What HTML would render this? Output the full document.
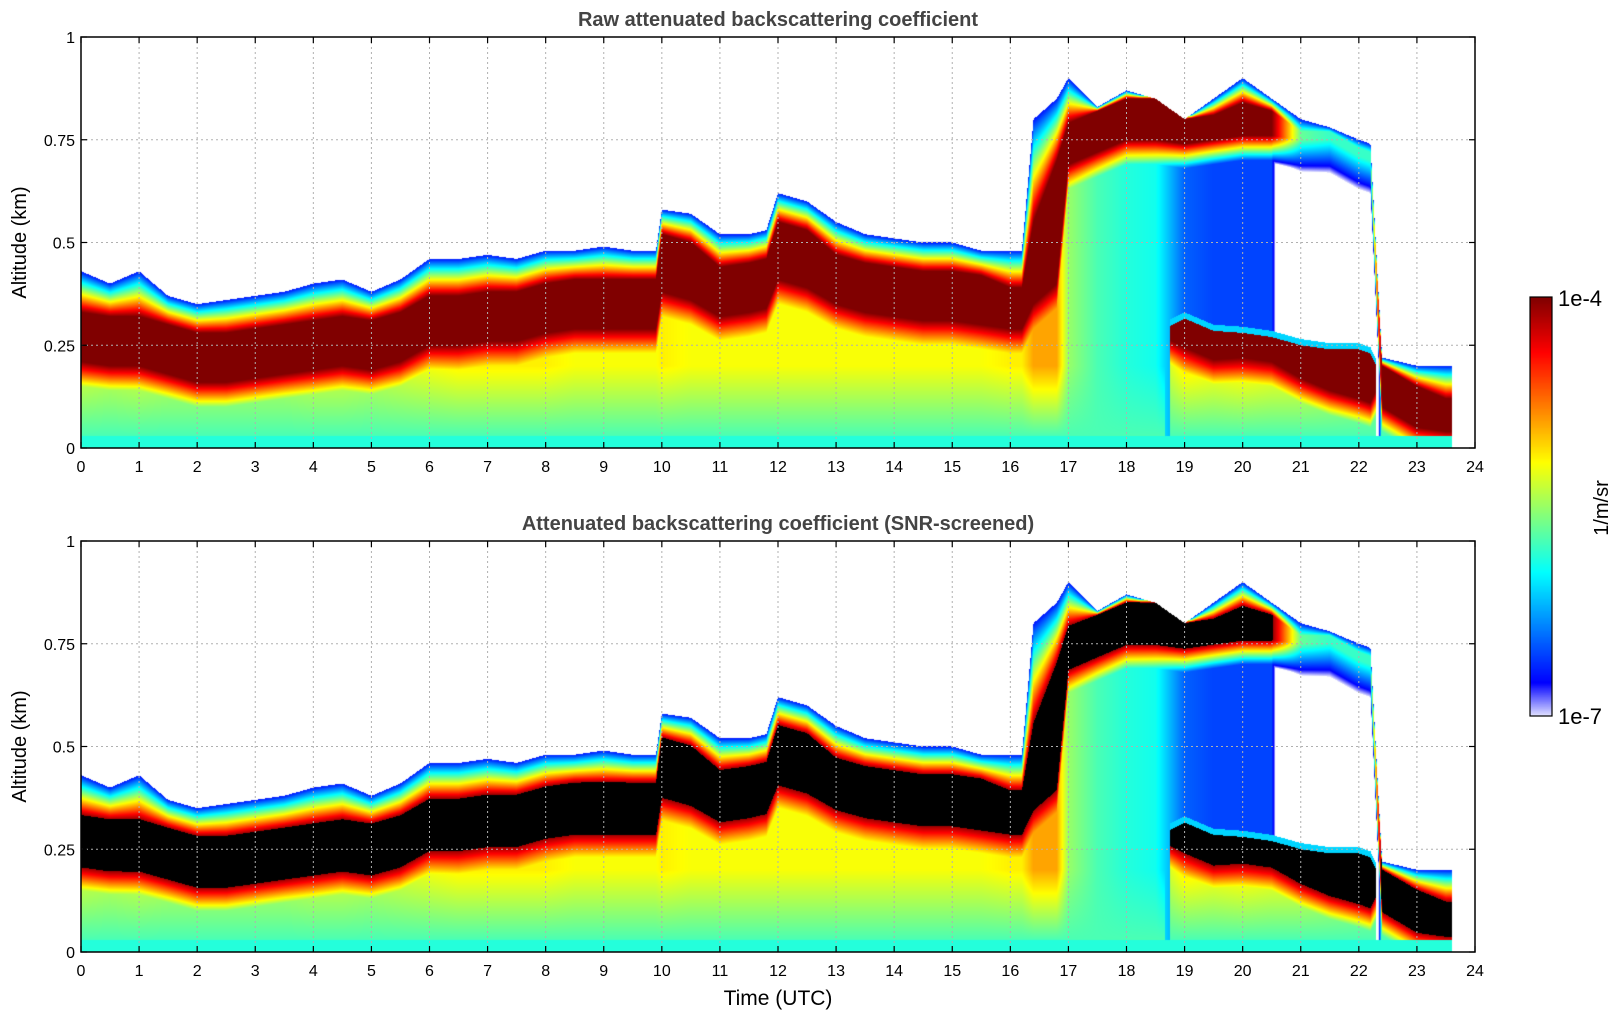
<!DOCTYPE html>
<html><head><meta charset="utf-8"><style>
body{margin:0;background:#fff;width:1621px;height:1020px;overflow:hidden;position:relative;font-family:"Liberation Sans","DejaVu Sans",sans-serif}
canvas,svg{position:absolute;left:0;top:0}
</style></head><body>
<canvas id="hm" width="1621" height="1020"></canvas>
<svg id="ax" width="1621" height="1020"></svg>
<script>
const times=[0,0.5,1,1.5,2,2.5,3,3.5,4,4.5,5,5.5,6,6.5,7,7.5,8,8.5,9,9.5,9.9,10,10.5,11,11.5,11.8,12,12.5,13,13.5,14,14.5,15,15.5,16,16.2,16.4,16.8,17,17.5,18,18.5,19,19.5,20,20.5,21,21.5,22,22.2,22.4,23,23.5,23.6];
const tops=[0.43,0.40,0.43,0.37,0.35,0.36,0.37,0.38,0.40,0.41,0.38,0.41,0.46,0.46,0.47,0.46,0.48,0.48,0.49,0.48,0.48,0.58,0.57,0.52,0.52,0.53,0.62,0.60,0.55,0.52,0.51,0.50,0.50,0.48,0.48,0.48,0.80,0.85,0.90,0.83,0.87,0.85,0.80,0.85,0.90,0.85,0.80,0.78,0.75,0.74,0.22,0.20,0.20,0.20];
const peaks=[0.27,0.26,0.26,0.24,0.22,0.22,0.23,0.24,0.25,0.26,0.25,0.27,0.31,0.31,0.32,0.32,0.34,0.35,0.35,0.35,0.35,0.45,0.43,0.38,0.39,0.40,0.48,0.46,0.41,0.39,0.38,0.37,0.37,0.36,0.34,0.34,0.45,0.55,0.74,0.77,0.80,0.80,0.77,0.78,0.80,0.79,0.76,0.76,0.72,0.71,0.15,0.10,0.08,0.08];
const widths=[0.06,0.06,0.06,0.06,0.06,0.06,0.06,0.06,0.06,0.06,0.06,0.06,0.06,0.06,0.06,0.06,0.06,0.06,0.06,0.06,0.06,0.07,0.07,0.06,0.06,0.06,0.07,0.07,0.06,0.06,0.06,0.06,0.06,0.06,0.05,0.05,0.10,0.15,0.05,0.05,0.05,0.05,0.03,0.03,0.04,0.03,0.01,0.01,0.01,0.01,0.05,0.05,0.04,0.04];
const peakV=[1,1,1,1,1,1,1,1,1,1,1,1,1,1,1,1,1,1,1,1,1,1,1,1,1,1,1,1,1,1,1,1,1,1,1,1,1,1,1,1,1,1,1,1,1,1,0.45,0.4,0.4,0.4,1,1,1,1];
const midV=[0.58,0.56,0.58,0.56,0.56,0.56,0.56,0.56,0.58,0.58,0.56,0.58,0.6,0.62,0.62,0.62,0.62,0.6,0.6,0.6,0.6,0.62,0.6,0.6,0.6,0.6,0.6,0.6,0.6,0.6,0.6,0.6,0.6,0.6,0.62,0.62,0.7,0.7,0.5,0.42,0.38,0.36,0.18,0.15,0.15,0.15,-1,-1,-1,-1,0.45,0.45,0.45,0.45];
const peak2=[null,null,null,null,null,null,null,null,null,null,null,null,null,null,null,null,null,null,null,null,null,null,null,null,null,null,null,null,null,null,null,null,null,null,null,null,null,null,null,null,null,null,0.28,0.25,0.25,0.24,0.21,0.19,0.18,0.17,null,null,null,null];
const peak2W=[0,0,0,0,0,0,0,0,0,0,0,0,0,0,0,0,0,0,0,0,0,0,0,0,0,0,0,0,0,0,0,0,0,0,0,0,0,0,0,0,0,0,0.035,0.035,0.03,0.03,0.04,0.05,0.06,0.06,0,0,0,0];
const lowV=[0.5,0.5,0.5,0.5,0.5,0.5,0.5,0.5,0.5,0.5,0.5,0.5,0.5,0.5,0.5,0.5,0.5,0.5,0.5,0.5,0.5,0.5,0.5,0.5,0.5,0.5,0.5,0.5,0.5,0.5,0.5,0.5,0.5,0.5,0.5,0.5,0.5,0.5,0.5,0.5,0.5,0.5,0.64,0.62,0.64,0.62,0.62,0.6,0.58,0.58,0.5,0.5,0.5,0.5];
const dataEnd=23.6;
const xTicks=[0,1,2,3,4,5,6,7,8,9,10,11,12,13,14,15,16,17,18,19,20,21,22,23,24];
const yTicks=[0,0.25,0.5,0.75,1];
const yTickLabels=["0","0.25","0.5","0.75","1"];

const X0=81,X1=1475;
const panels=[{y0:37,y1:448,title:"Raw attenuated backscattering coefficient",screen:false},
              {y0:541,y1:952,title:"Attenuated backscattering coefficient (SNR-screened)",screen:true}];
function xs(t){return X0+(t/24)*(X1-X0);}
function ys(p,z){return p.y1-z*(p.y1-p.y0);}
function interp(arr,t){let i=0;while(i<times.length-2&&times[i+1]<=t)i++;
  const f=Math.max(0,Math.min(1,(t-times[i])/(times[i+1]-times[i])));const a=arr[i],b=arr[i+1];
  if(a==null||b==null)return (f<0.5?a:b);return a+(b-a)*f;}
function jet(v){const c=x=>Math.max(0,Math.min(1,x));
  if(v<0.08){const k=v/0.08;return [Math.round(230-230*k),Math.round(230-230*k),255];}
  const u=0.125+(Math.min(v,1)-0.08)/0.92*0.875;
  return [c(1.5-Math.abs(4*u-3)),c(1.5-Math.abs(4*u-2)),c(1.5-Math.abs(4*u-1))].map(x=>Math.round(x*255));}
function val(t,z){
  if(t>dataEnd)return null;
  const top=interp(tops,t),pk=interp(peaks,t),w=interp(widths,t),pv=interp(peakV,t),mv=interp(midV,t),p2=interp(peak2,t),p2w=interp(peak2W,t),lv=interp(lowV,t);
  if(z<0.03)return 0.38;
  if(z>top)return null;
  if(Math.abs(z-pk)<w)return pv;
  if(z>pk){const fr=(z-pk-w)/Math.max(0.01,top-pk-w);return pv-fr*(pv-0.1);}
  let base=mv,src=pv,edge=pk-w;
  if(p2!=null){
    if(Math.abs(z-p2)<p2w)return 1;
    if(z<p2-p2w){base=lv;src=1;edge=p2-p2w;}
    else if(z<p2+p2w+0.015)return 0.3;
  }
  if(base>0.3&&z<0.2)base=base+(0.42-base)*(0.2-z)/0.17;
  if(src<=base)return base<0?null:base;
  const dd=edge-z;let v=src-dd/0.06*(src-Math.max(base,0.1));
  if(v<base)v=base;
  if(v<0)return null;
  return v;
}
const cv=document.getElementById('hm'),ctx=cv.getContext('2d');
panels.forEach(p=>{
  const W=X1-X0,H=p.y1-p.y0,img=ctx.createImageData(W,H);
  for(let i=0;i<W;i++){const t=(i+0.5)/W*24;
    for(let j=0;j<H;j++){const z=1-(j+0.5)/H;const v=val(t,z);let k=(j*W+i)*4;
      if(v==null){img.data[k]=255;img.data[k+1]=255;img.data[k+2]=255;}
      else if(p.screen&&v>=0.97){img.data[k]=0;img.data[k+1]=0;img.data[k+2]=0;}
      else{const c=jet(v);img.data[k]=c[0];img.data[k+1]=c[1];img.data[k+2]=c[2];}
      img.data[k+3]=255;}}
  ctx.putImageData(img,X0,p.y0);
});
const CB={x:1530,y0:297,y1:716,w:22};
for(let j=0;j<CB.y1-CB.y0;j++){const v=1-j/(CB.y1-CB.y0);const c=jet(v);ctx.fillStyle=`rgb(${c[0]},${c[1]},${c[2]})`;ctx.fillRect(CB.x,CB.y0+j,CB.w,1);}

const svg=document.getElementById('ax'),NS="http://www.w3.org/2000/svg";
function el(tag,attrs,parent,txt){const e=document.createElementNS(NS,tag);for(const k in attrs)e.setAttribute(k,attrs[k]);if(txt!=null)e.textContent=txt;(parent||svg).appendChild(e);return e;}
panels.forEach((p,pi)=>{
  const g=el('g',{});
  
  
  xTicks.forEach(t=>{const x=xs(t);
    if(t>0&&t<24){const l=el('line',{x1:x,x2:x,y1:p.y0,y2:p.y1,stroke:'#b0b0b0','stroke-width':1,'stroke-dasharray':'2,3'},g);}
    el('line',{x1:x,x2:x,y1:p.y1,y2:p.y1-6,stroke:'#000','stroke-width':1.2},g);
    el('line',{x1:x,x2:x,y1:p.y0,y2:p.y0+6,stroke:'#000','stroke-width':1.2},g);
    const tx=el('text',{x:x,y:p.y1+24,'text-anchor':'middle','font-size':16,fill:'#000'},g,String(t));
    });
  yTicks.forEach((z,k)=>{const y=ys(p,z);
    if(z>0&&z<1){const l=el('line',{x1:X0,x2:X1,y1:y,y2:y,stroke:'#b0b0b0','stroke-width':1,'stroke-dasharray':'2,3'},g);}
    el('line',{x1:X0,x2:X0+6,y1:y,y2:y,stroke:'#000','stroke-width':1.2},g);
    el('line',{x1:X1,x2:X1-6,y1:y,y2:y,stroke:'#000','stroke-width':1.2},g);
    const tx=el('text',{x:X0-6,y:y+6,'text-anchor':'end','font-size':16,fill:'#000'},g,yTickLabels[k]);
    });
  const fr=el('rect',{x:X0,y:p.y0,width:X1-X0,height:p.y1-p.y0,fill:'none',stroke:'#000','stroke-width':1.5},g);
  
  const tt=el('text',{x:(X0+X1)/2,y:p.y0-11,'text-anchor':'middle','font-size':20,'font-weight':'bold',fill:'#444'},g,p.title);
  
  const yl=el('text',{x:0,y:0,transform:`translate(26,${(p.y0+p.y1)/2}) rotate(-90)`,'text-anchor':'middle','font-size':20,fill:'#000'},g,'Altitude (km)');
  
});
const xl=el('text',{x:(X0+X1)/2,y:1005,'text-anchor':'middle','font-size':21,fill:'#000'},null,'Time (UTC)');

const cbf=el('rect',{x:CB.x,y:CB.y0,width:CB.w,height:CB.y1-CB.y0,fill:'none',stroke:'#000','stroke-width':1.2});

const c1=el('text',{x:1558,y:306,'font-size':22,fill:'#000'},null,'1e-4');

const c2=el('text',{x:1558,y:724,'font-size':22,fill:'#000'},null,'1e-7');

const cu=el('text',{x:0,y:0,transform:'translate(1608,508) rotate(-90)','text-anchor':'middle','font-size':20,fill:'#000'},null,'1/m/sr');

</script>
</body></html>
